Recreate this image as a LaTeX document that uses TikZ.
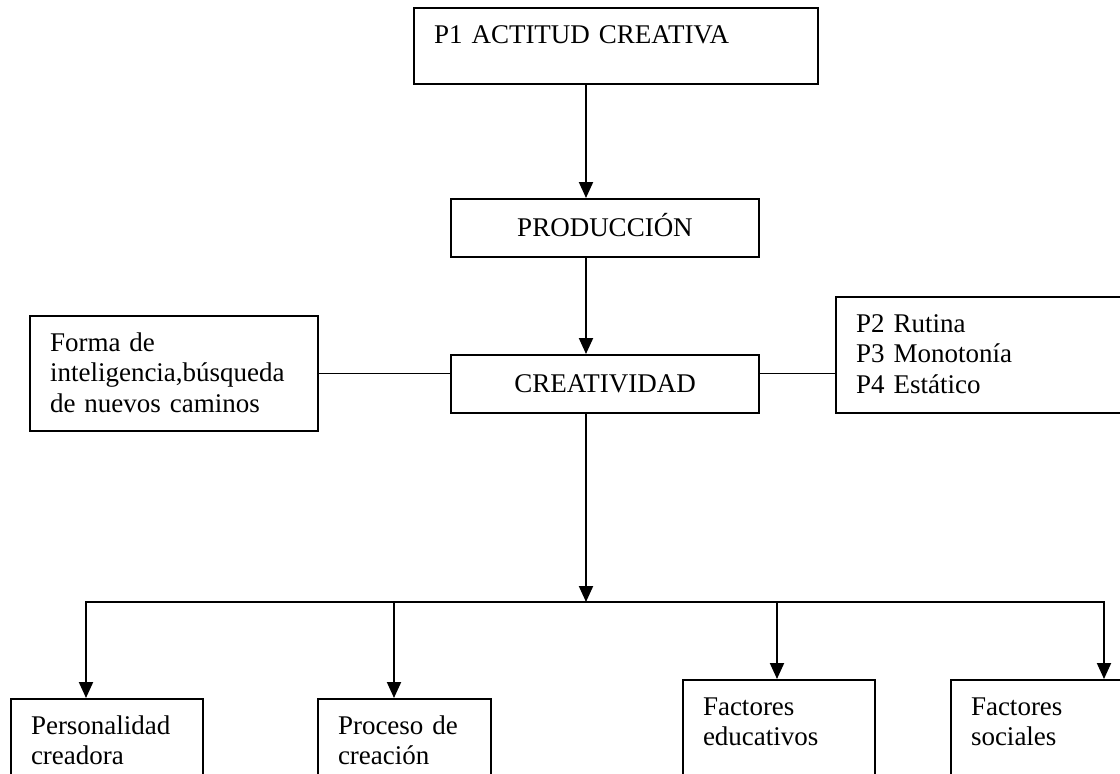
\documentclass[tikz,border=0pt]{standalone}
\usepackage{fontspec}
\setmainfont{Liberation Serif}
\usetikzlibrary{positioning,arrows.meta}
\tikzset{
  >={Triangle[width=14pt,length=16pt]},
  module/.style={draw, line width=2pt, font=\fontsize{27}{30.5}\selectfont},
  title module/.style={module, minimum width=308pt, minimum height=58pt, inner sep=0pt, text height=17.5pt, text depth=0pt},
  text module/.style={module, anchor=north west, align=left, inner xsep=20pt, inner ysep=13pt, text height=22pt},
  link/.style={line width=2pt},
  side link/.style={line width=1.5pt},
}

\begin{document}
\begin{tikzpicture}[x=1pt,y=-1pt]
\useasboundingbox (0,0) rectangle (1120,774);
\clip (0,0) rectangle (1120,774);
\fill[white] (0,0) rectangle (1120,774);
%the nodes
\node [text module, text width=364pt, text depth=28pt] (p1) at (413,7) {P1 ACTITUD CREATIVA};
\node [title module] (prod) at (605,228) {PRODUCCIÓN};
\node [title module, below=96pt of prod] (crea) {CREATIVIDAD};
\node [text module, text width=248pt, text depth=67pt] (forma) at (29,315) {Forma de\\inteligencia,búsqueda\\de nuevos caminos};
\node [text module, text width=300pt, text depth=68pt] (rutina) at (835,296) {P2 Rutina\\P3 Monotonía\\P4 Estático};
\node [text module, text width=152pt, text depth=100pt] (pers) at (10,698) {Personalidad\\creadora};
\node [text module, text width=133pt, text depth=100pt] (proc) at (317,698) {Proceso de\\creación};
\node [text module, text width=152pt, text depth=100pt] (edu) at (682,679) {Factores\\educativos};
\node [text module, text width=200pt, text depth=100pt] (soc) at (950,679) {Factores\\sociales};
%points of the lines
\coordinate (spine) at (586,0);
\coordinate (fork) at (586,602);
\coordinate (b1) at (86,602);
\coordinate (b2) at (394,602);
\coordinate (b3) at (777,602);
\coordinate (b4) at (1104,602);
%drawings of vectors
\draw[link,->] (p1.south -| spine) -- (prod.north -| spine);
\draw[link,->] (prod.south -| spine) -- (crea.north -| spine);
\draw[side link] (forma.east) -- (forma.east -| crea.west);
\draw[side link] (crea.east |- forma.east) -- (rutina.west |- forma.east);
\draw[link,->] (crea.south -| fork) -- (fork);
\draw[link,<->] (pers.north -| b1) -- (b1) -- (b4) -- (soc.north -| b4);
\draw[link,->] (b2) -- (proc.north -| b2);
\draw[link,->] (b3) -- (edu.north -| b3);
\end{tikzpicture}
\end{document}
